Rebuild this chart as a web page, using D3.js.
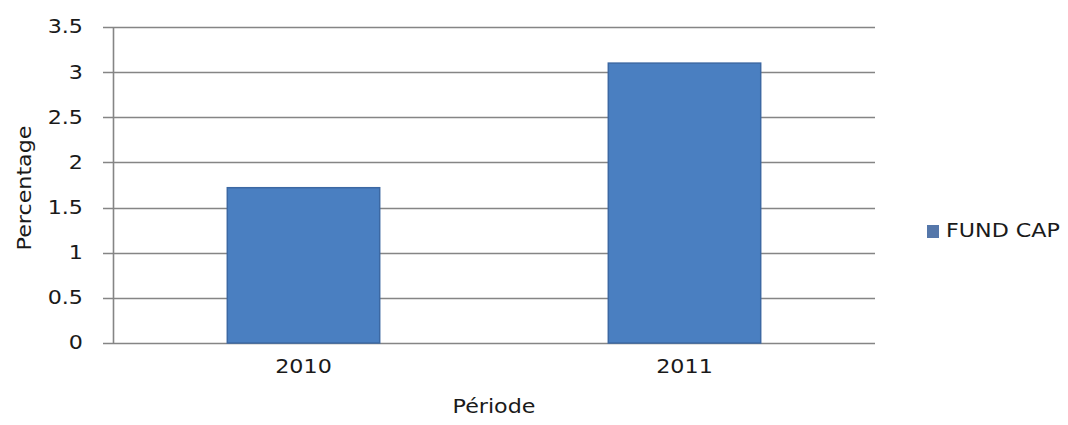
<!DOCTYPE html>
<html>
<head>
<meta charset="utf-8">
<script src="https://cdn.jsdelivr.net/npm/d3@7"></script>
<style>
  html, body { margin: 0; padding: 0; background: #ffffff; }
  svg { display: block; }
  text { font-family: "DejaVu Sans", Verdana, sans-serif; fill: #1a1a1a; }
</style>
</head>
<body>
<svg id="chart" width="1068" height="425"></svg>
<script>
// Fund capital ratio per period
const categories = ["2010", "2011"];
const fundCap = [1.72, 3.1];
const yTicks = [0, 0.5, 1, 1.5, 2, 2.5, 3, 3.5];
const tickLabels = ["0", "0.5", "1", "1.5", "2", "2.5", "3", "3.5"];
const seriesName = "FUND CAP";
const xTitle = "Période";
const yTitle = "Percentage";

const svg = d3.select("#chart");
const plot = { left: 113, right: 875, top: 27, bottom: 343 };
const fontSize = 19;
const stretch = 1.17;   // horizontal stretch of the lettering

const x = d3.scaleBand()
  .domain(categories)
  .range([plot.left, plot.right])
  .paddingInner(0.6)
  .paddingOuter(0.3);

const y = d3.scaleLinear()
  .domain([0, 3.5])
  .range([plot.bottom, plot.top]);

// text helper: positions an element and stretches it along its reading direction
function label(g, str, tx, ty, anchor, rotate) {
  return g.append("text")
    .attr("transform", `translate(${tx},${ty})` + (rotate ? ` rotate(${rotate})` : "") + ` scale(${stretch},1)`)
    .attr("text-anchor", anchor)
    .attr("dominant-baseline", "central")
    .style("font-size", fontSize + "px")
    .text(str);
}

// horizontal gridlines (extend left past the axis as tick marks)
svg.append("g")
  .selectAll("line")
  .data(yTicks)
  .join("line")
  .attr("x1", plot.left - 10)
  .attr("x2", plot.right)
  .attr("y1", d => Math.round(y(d)) + 0.5)
  .attr("y2", d => Math.round(y(d)) + 0.5)
  .attr("stroke", "#858585")
  .attr("stroke-width", 1.6);

// y tick labels
const yLab = svg.append("g");
yTicks.forEach((t, i) => label(yLab, tickLabels[i], plot.left - 30, y(t), "end"));

// bars
svg.append("g")
  .selectAll("rect")
  .data(categories.map((c, i) => ({ c, v: fundCap[i] })))
  .join("rect")
  .attr("x", d => x(d.c))
  .attr("y", d => y(d.v))
  .attr("width", x.bandwidth())
  .attr("height", d => y(0) - y(d.v))
  .attr("fill", "#4a7fc1")
  .attr("stroke", "#3c68a3")
  .attr("stroke-width", 1.5);

// vertical axis line
svg.append("line")
  .attr("x1", plot.left + 0.5).attr("x2", plot.left + 0.5)
  .attr("y1", y(3.5)).attr("y2", y(0))
  .attr("stroke", "#858585")
  .attr("stroke-width", 1.6);

// x category labels
const xLab = svg.append("g");
categories.forEach(c => label(xLab, c, x(c) + x.bandwidth() / 2, 367, "middle"));

// axis titles
label(svg, xTitle, (plot.left + plot.right) / 2, 407, "middle");
label(svg, yTitle, 25, 188, "middle", -90);

// legend
const legend = svg.append("g");
legend.append("rect")
  .attr("x", 927).attr("y", 225)
  .attr("width", 12).attr("height", 13)
  .attr("fill", "#5577aa");
label(legend, seriesName, 946, 231, "start");
</script>
</body>
</html>
